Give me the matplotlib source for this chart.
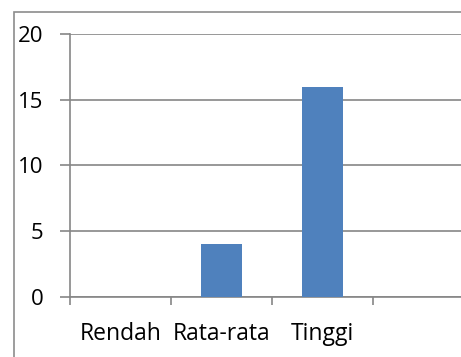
import matplotlib.pyplot as plt
from matplotlib.patches import Rectangle

# data
categories = ["Rendah", "Rata-rata", "Tinggi", ""]
values = [0, 4, 16, 0]
y_ticks = [0, 5, 10, 15, 20]

W, H = 461, 357
fig = plt.figure(figsize=(W / 100, H / 100), dpi=100)
plt.rcParams['font.family'] = ['Open Sans', 'DejaVu Sans']

# outer chart border (right and bottom are cut off in the original)
fig.patches.append(Rectangle((13.5 / W, -0.1), 1.2, (H - 11.5) / H + 0.1,
                             transform=fig.transFigure, fill=False,
                             edgecolor="#8c8c8c", linewidth=1.2))

# plot area runs past the right edge
left, right = 70 / W, (70 + 4 * 101) / W
bottom, top = (H - 297) / H, (H - 34) / H
ax = fig.add_axes([left, bottom, right - left, top - bottom])

gray = "#868686"
x = range(len(categories))
ax.bar(x, values, width=0.4, color="#4F81BD", zorder=3)

ax.set_xlim(-0.5, len(categories) - 0.5)
ax.set_ylim(0, 20)
ax.set_yticks(y_ticks)
ax.set_yticklabels([str(t) for t in y_ticks])
ax.set_xticks([i - 0.5 for i in range(len(categories))], minor=False)
ax.set_xticklabels([])
ax.set_xticks(list(x), minor=True)
ax.set_xticklabels(categories, minor=True)
ax.grid(axis="y", color=gray, linewidth=1.2, zorder=0)

for s in ["top", "right"]:
    ax.spines[s].set_visible(False)
for s in ["left", "bottom"]:
    ax.spines[s].set_color(gray)
    ax.spines[s].set_linewidth(1.2)

ax.tick_params(axis="y", which="major", length=7, width=1.2, color=gray,
               pad=12, labelsize=16, labelcolor="black")
ax.tick_params(axis="x", which="major", length=6, width=1.2, color=gray)
ax.tick_params(axis="x", which="minor", length=0, pad=18, labelsize=16.5,
               labelcolor="black")

fig.savefig("out.png", dpi=100)
